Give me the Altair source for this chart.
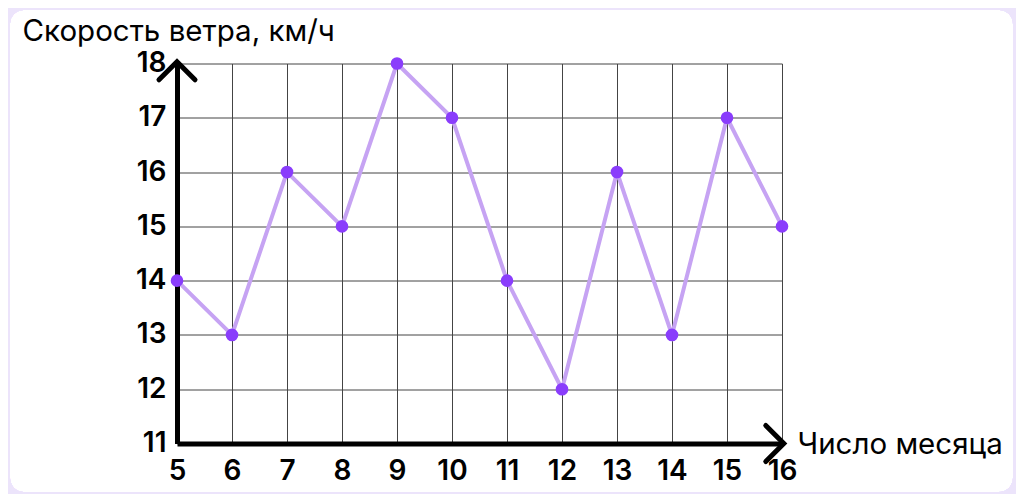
import altair as alt
import pandas as pd

days = [5, 6, 7, 8, 9, 10, 11, 12, 13, 14, 15, 16]
speeds = [14, 13, 16, 15, 18, 17, 14, 12, 16, 13, 17, 15]
x_ticks = list(range(5, 17))
y_ticks = list(range(11, 19))

df = pd.DataFrame({"day": days, "speed": speeds})

FONT = "Inter"
W, H = 605, 380

xs = alt.Scale(domain=[5, 16], nice=False, zero=False)
ys = alt.Scale(domain=[11, 18], nice=False, zero=False)

base = alt.Chart(df)

common = dict(grid=True, gridColor="#444444", gridWidth=1, gridOpacity=1,
              domainColor="#000000", domainWidth=5, ticks=False,
              format="d", labelOverlap=False, labelFlush=False,
              labelFont=FONT, labelFontSize=28, labelFontWeight=600,
              labelColor="#000000",
              titleFont=FONT, titleFontSize=29.5, titleFontWeight=400,
              titleColor="#000000", titleAngle=0, titleAlign="left",
              titleBaseline="alphabetic")

line = base.mark_line(color="#C6A3F3", strokeWidth=4).encode(
    x=alt.X("day:Q", scale=xs,
            axis=alt.Axis(values=x_ticks, title="Число месяца", labelPadding=14,
                          titleX=620, titleY=10, **common)),
    y=alt.Y("speed:Q", scale=ys,
            axis=alt.Axis(values=y_ticks, title="Скорость ветра, км/ч", labelPadding=11,
                          titleX=-155, titleY=-23, **common)),
)

points = base.mark_circle(color="#8A3DFC", opacity=1, size=160).encode(
    x=alt.X("day:Q", scale=xs), y=alt.Y("speed:Q", scale=ys)
)

arrow_df = pd.DataFrame({"ax": [5, 16], "ay": [18, 11], "ang": [0, 90]})
chevron = "M-1,0.9 L0,-0.1 L1,0.9"
arrows = alt.Chart(arrow_df).mark_point(
    shape=chevron, filled=False, stroke="#000000", strokeWidth=5,
    size=1300, opacity=1, strokeCap="round", strokeJoin="miter"
).encode(
    x=alt.X("ax:Q", scale=xs), y=alt.Y("ay:Q", scale=ys),
    angle=alt.Angle("ang:Q", scale=None),
)

frame = alt.Chart(df).mark_rect(
    fill=None, stroke="#ECE4FB", strokeWidth=20, cornerRadius=24
).encode(
    x=alt.value(-177), x2=alt.value(846), y=alt.value(-63.5), y2=alt.value(438.5)
)

chart = alt.layer(line, points, arrows, frame).properties(
    width=W, height=H,
    autosize=alt.AutoSizeParams(type="none"),
    padding={"left": 169, "top": 55.5, "right": 234, "bottom": 50.5},
    background="#FFFFFF",
).configure_view(stroke=None)

chart.save("out.html", embed_options={"renderer": "svg", "actions": False})
